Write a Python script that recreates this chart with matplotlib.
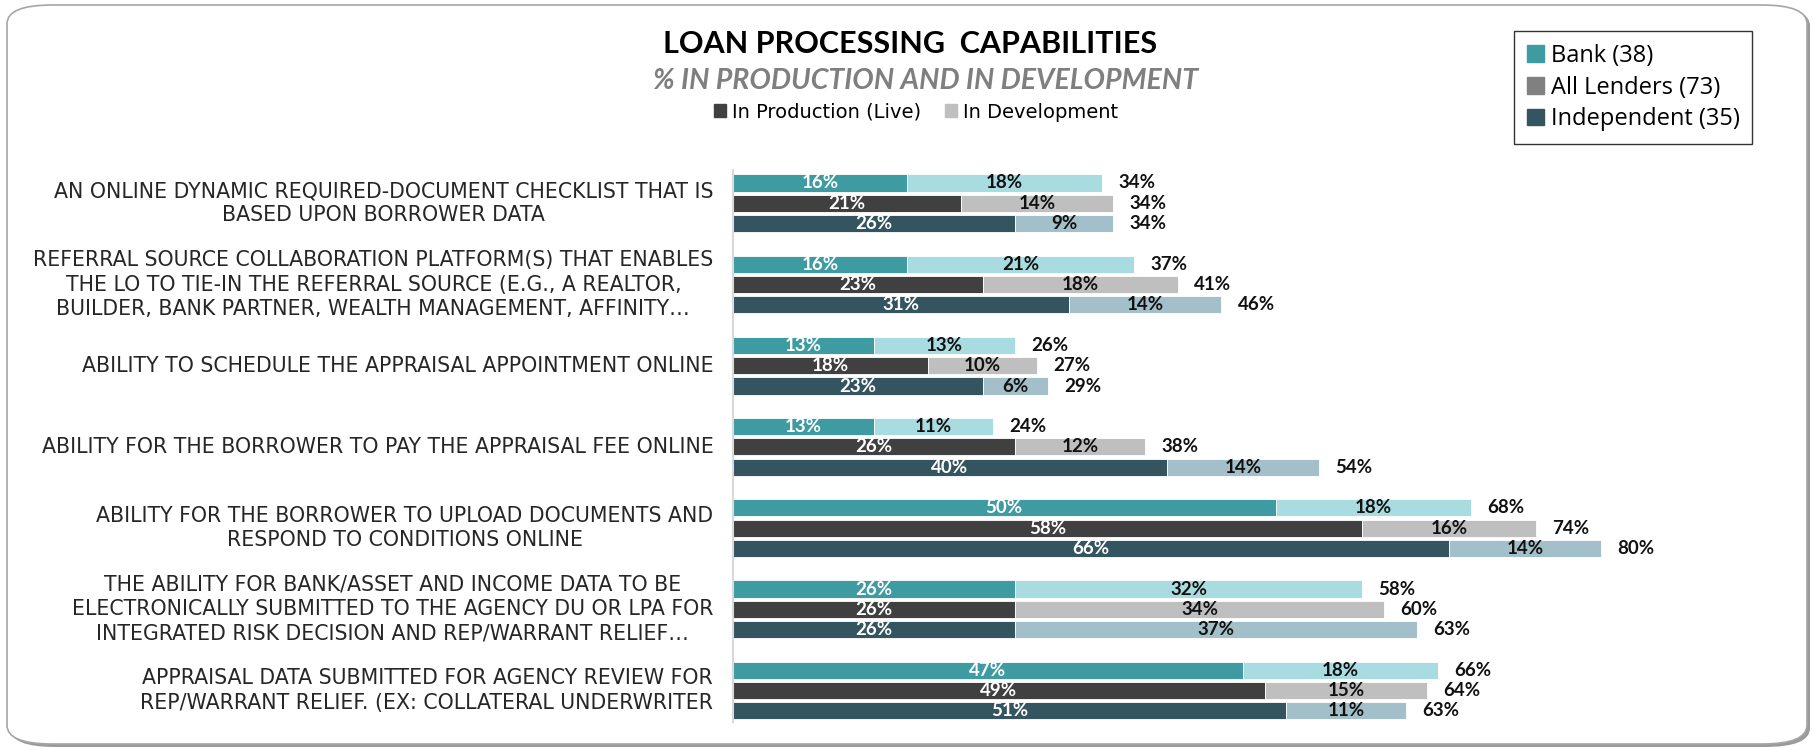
import matplotlib
matplotlib.use("Agg")
import matplotlib.pyplot as plt
from matplotlib.patches import FancyBboxPatch, Patch

# ---- data -------------------------------------------------------------
categories = [
    "AN ONLINE DYNAMIC REQUIRED-DOCUMENT CHECKLIST THAT IS\nBASED UPON BORROWER DATA",
    "REFERRAL SOURCE COLLABORATION PLATFORM(S) THAT ENABLES\nTHE LO TO TIE-IN THE REFERRAL SOURCE (E.G., A REALTOR,\nBUILDER, BANK PARTNER, WEALTH MANAGEMENT, AFFINITY\u2026",
    "ABILITY TO SCHEDULE THE APPRAISAL APPOINTMENT ONLINE",
    "ABILITY FOR THE BORROWER TO PAY THE APPRAISAL FEE ONLINE",
    "ABILITY FOR THE BORROWER TO UPLOAD DOCUMENTS AND\nRESPOND TO CONDITIONS ONLINE",
    "THE ABILITY FOR BANK/ASSET AND INCOME DATA TO BE\nELECTRONICALLY SUBMITTED TO THE AGENCY DU OR LPA FOR\nINTEGRATED RISK DECISION AND REP/WARRANT RELIEF\u2026",
    "APPRAISAL DATA SUBMITTED FOR AGENCY REVIEW FOR\nREP/WARRANT RELIEF. (EX: COLLATERAL UNDERWRITER",
]

segments = ["Bank (38)", "All Lenders (73)", "Independent (35)"]

bank_live = [16, 16, 13, 13, 50, 26, 47]
bank_dev = [18, 21, 13, 11, 18, 32, 18]
bank_total = [34, 37, 26, 24, 68, 58, 66]

all_live = [21, 23, 18, 26, 58, 26, 49]
all_dev = [14, 18, 10, 12, 16, 34, 15]
all_total = [34, 41, 27, 38, 74, 60, 64]

ind_live = [26, 31, 23, 40, 66, 26, 51]
ind_dev = [9, 14, 6, 14, 14, 37, 11]
ind_total = [34, 46, 29, 54, 80, 63, 63]

# ---- styling ----------------------------------------------------------
live_colors = ["#3E9BA1", "#404040", "#34545F"]
dev_colors = ["#A9DCE0", "#BFBFBF", "#A3BFCA"]
legend_colors = ["#3E9BA1", "#808080", "#34545F"]

W, H = 1818, 750
fig = plt.figure(figsize=(W / 100, H / 100), dpi=100)

# rounded frame around the whole chart
shadow = FancyBboxPatch((10 / W, 3 / H), 1800 / W, 740 / H,
                        boxstyle="round,pad=0,rounding_size=0.025",
                        transform=fig.transFigure, facecolor="#9A9A9A",
                        edgecolor="none", zorder=-2)
frame = FancyBboxPatch((7 / W, 6 / H), 1800 / W, 739 / H,
                       boxstyle="round,pad=0,rounding_size=0.025",
                       transform=fig.transFigure, facecolor="white",
                       edgecolor="#A6A6A6", linewidth=1.2, zorder=-1)
fig.patches.extend([shadow, frame])

# axes placed in pixel terms
px_per_pct = 10.85
row_px = 20.3
ax_left, ax_width = 733, 1000
ax_top, ax_bot = 170, 722
ax = fig.add_axes([ax_left / W, 1 - ax_bot / H, ax_width / W, (ax_bot - ax_top) / H])
ax.set_zorder(2)
ax.set_facecolor("none")
ax.set_xlim(0, ax_width / px_per_pct)
first_center = 183
ax.set_ylim((ax_bot - first_center) / row_px, -(first_center - ax_top) / row_px)

lives = [bank_live, all_live, ind_live]
devs = [bank_dev, all_dev, ind_dev]
totals = [bank_total, all_total, ind_total]

bar_h = 0.84
val_font = dict(fontsize=13.5, fontweight="bold", family=["Lato", "DejaVu Sans"])
for i in range(len(categories)):
    for j in range(3):
        y = i * 4 + j
        lv, dv, tv = lives[j][i], devs[j][i], totals[j][i]
        ax.barh(y, lv, height=bar_h, color=live_colors[j], edgecolor="white", linewidth=0.6)
        ax.barh(y, dv, left=lv, height=bar_h, color=dev_colors[j], edgecolor="white", linewidth=0.6)
        ax.text(lv / 2, y, f"{lv}%", ha="center", va="center", color="white", **val_font)
        ax.text(lv + dv / 2, y, f"{dv}%", ha="center", va="center", color="#111111", **val_font)
        ax.text(lv + dv + 1.5, y, f"{tv}%", ha="left", va="center", color="#111111", **val_font)
    # category label, centred on the middle bar of its group
    ax.text(-1.8, i * 4 + 1, categories[i], ha="right", va="center",
            multialignment="center", fontsize=14.8, color="#262626",
            family=["DejaVu Sans"], linespacing=1.27, clip_on=False)

for side in ["top", "right", "bottom"]:
    ax.spines[side].set_visible(False)
ax.spines["left"].set_color("#D9D9D9")
ax.spines["left"].set_linewidth(1.5)
ax.set_xticks([])
ax.set_yticks([])

# titles
fig.text(910 / W, 1 - 44 / H, "LOAN PROCESSING  CAPABILITIES", ha="center", va="center",
         fontsize=22, fontweight="bold", color="#000000", family=["Lato", "DejaVu Sans"])
fig.text(926 / W, 1 - 81 / H, "% IN PRODUCTION AND IN DEVELOPMENT", ha="center", va="center",
         fontsize=20.5, fontweight="bold", fontstyle="italic", color="#7F7F7F",
         family=["Lato", "DejaVu Sans"])

# production / development key
key = fig.legend(handles=[Patch(color="#404040"), Patch(color="#BFBFBF")],
                 labels=["In Production (Live)", "In Development"],
                 loc="center", bbox_to_anchor=(916 / W, 1 - 112 / H), ncol=2,
                 frameon=False, handlelength=0.65, handleheight=0.65,
                 handletextpad=0.3, columnspacing=1.2,
                 prop=dict(size=14, family=["Liberation Sans Narrow", "DejaVu Sans"]))

# segment legend in a box
seg = fig.legend(handles=[Patch(color=c) for c in legend_colors], labels=segments,
                 loc="upper left", bbox_to_anchor=(1514 / W, 1 - 31 / H),
                 borderaxespad=0, frameon=True, fancybox=False, edgecolor="#000000",
                 handlelength=0.7, handleheight=0.7, handletextpad=0.3,
                 labelspacing=0.32, borderpad=0.55,
                 prop=dict(size=17, family=["Open Sans", "DejaVu Sans"]))
seg.get_frame().set_linewidth(1.0)

fig.savefig("out.png", dpi=100)
